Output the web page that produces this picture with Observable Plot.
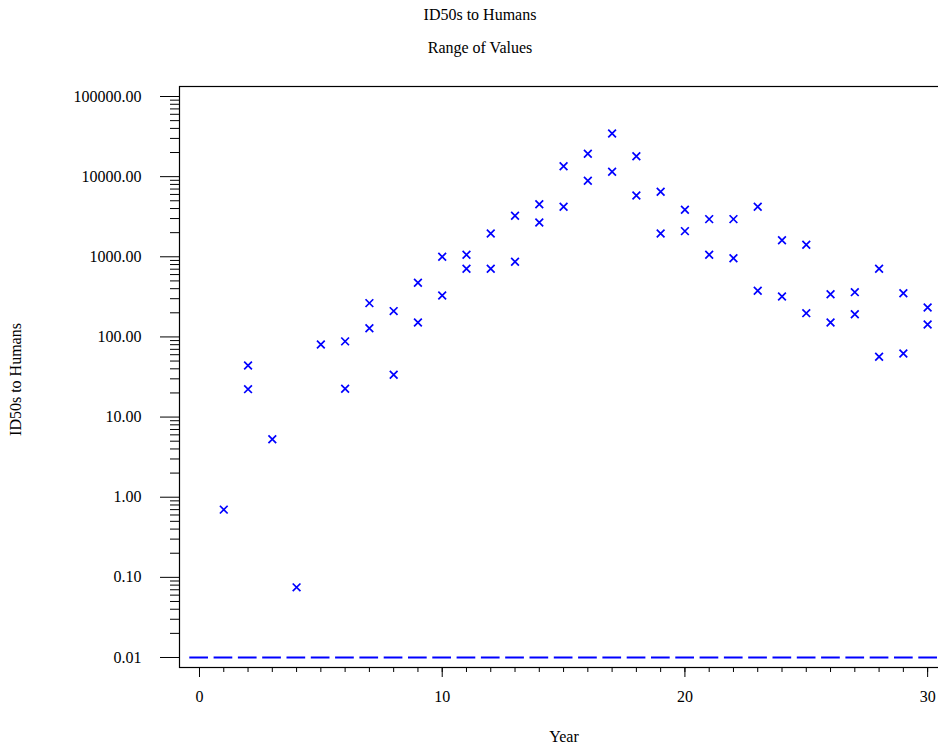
<!DOCTYPE html>
<html>
<head>
<meta charset="utf-8">
<script src="https://cdn.jsdelivr.net/npm/d3@7"></script>
<script src="https://cdn.jsdelivr.net/npm/@observablehq/plot@0.6"></script>
<style>
  html, body { margin: 0; padding: 0; background: white; overflow: hidden; }
  body { width: 938px; height: 749px; font-family: "Liberation Serif", "Times New Roman", serif; color: black; }
  .title { font-size: 16px; text-align: center; padding-left: 22px; height: 30px; line-height: 30px; }
  .subtitle { font-size: 16px; text-align: center; padding-left: 22px; padding-top: 3px; height: 30px; line-height: 30px; }
  #chart svg { display: block; }
</style>
</head>
<body>
<div class="title">ID50s to Humans</div>
<div class="subtitle">Range of Values</div>
<div id="chart"></div>
<script>
// ---- data ----
const years = [1,2,3,4,5,6,7,8,9,10,11,12,13,14,15,16,17,18,19,20,21,22,23,24,25,26,27,28,29,30];
const upperValues = [0.70, 44, 5.3, 0.075, 80.5, 88, 264, 210, 474, 1000, 1060, 1950, 3250, 4530, 13500, 19300, 34600, 18000, 6470, 3860, 2950, 2950, 4200, 1610, 1410, 341, 362, 708, 351, 233];
const lowerValues = [null, 22.3, null, null, null, 22.5, 128, 33.7, 151, 329, 708, 708, 866, 2680, 4200, 8880, 11500, 5820, 1950, 2090, 1060, 961, 377, 320, 198, 151, 192, 56.5, 62, 143];
const limitValue = [0.01];
const limitYears = [-0.4, 31];
const yMajorTicks = [0.01, 0.1, 1, 10, 100, 1000, 10000, 100000];
const xMajorTicks = [0, 10, 20, 30];
const xMinorTicks = d3.range(0, 31);
const xDomain = [-0.824, 30.86];
const yDomain = [0.0075, 133300];
const xLabel = "Year";
const yLabel = "ID50s to Humans";

const yMinorTicks = [];
for (const d of yMajorTicks.slice(0, -1)) for (let k = 2; k <= 9; k++) yMinorTicks.push(+(d * k).toPrecision(3));

const points = [];
years.forEach((yr, i) => {
  if (upperValues[i] != null) points.push({year: yr, value: upperValues[i]});
  if (lowerValues[i] != null) points.push({year: yr, value: lowerValues[i]});
});

const blue = "#0000ff";

const chart = Plot.plot({
  width: 938,
  height: 686,
  marginLeft: 179,
  marginRight: -10,
  marginTop: 23,
  marginBottom: 82,
  x: {domain: xDomain},
  y: {type: "log", domain: yDomain},
  style: {fontFamily: "Liberation Serif, Times New Roman, serif", fontSize: "16px", color: "black", background: "white", overflow: "hidden"},
  marks: [
    Plot.ruleY(limitValue, {x1: limitYears[0], x2: limitYears[1], stroke: blue, strokeWidth: 2, strokeDasharray: "18.7,5.6"}),
    Plot.dot(points, {x: "year", y: "value", symbol: "times", r: 3.6, stroke: blue, strokeWidth: 1.7}),
    Plot.axisY({ticks: yMajorTicks, anchor: "left", tickSize: 19, tickPadding: 19, tickFormat: d => d.toFixed(2), label: null, stroke: "black", fill: "black"}),
    Plot.axisY({ticks: yMinorTicks, anchor: "left", tickSize: 9, tickFormat: () => "", label: null, stroke: "black"}),
    Plot.axisX({ticks: xMajorTicks, anchor: "bottom", tickSize: 10, tickPadding: 13, tickFormat: d => String(d), label: null, stroke: "black", fill: "black"}),
    Plot.axisX({ticks: xMinorTicks, anchor: "bottom", tickSize: 5, tickFormat: () => "", label: null, stroke: "black"}),
    Plot.frame({stroke: "black", strokeWidth: 1.2}),
    Plot.text([xLabel], {frameAnchor: "bottom", textAnchor: "middle", lineAnchor: "middle", dy: 69, fill: "black"}),
    Plot.text([yLabel], {frameAnchor: "left", textAnchor: "middle", lineAnchor: "middle", rotate: -90, dx: -163.6, dy: 2.5, fill: "black"})
  ]
});
document.getElementById("chart").appendChild(chart);
</script>
</body>
</html>
